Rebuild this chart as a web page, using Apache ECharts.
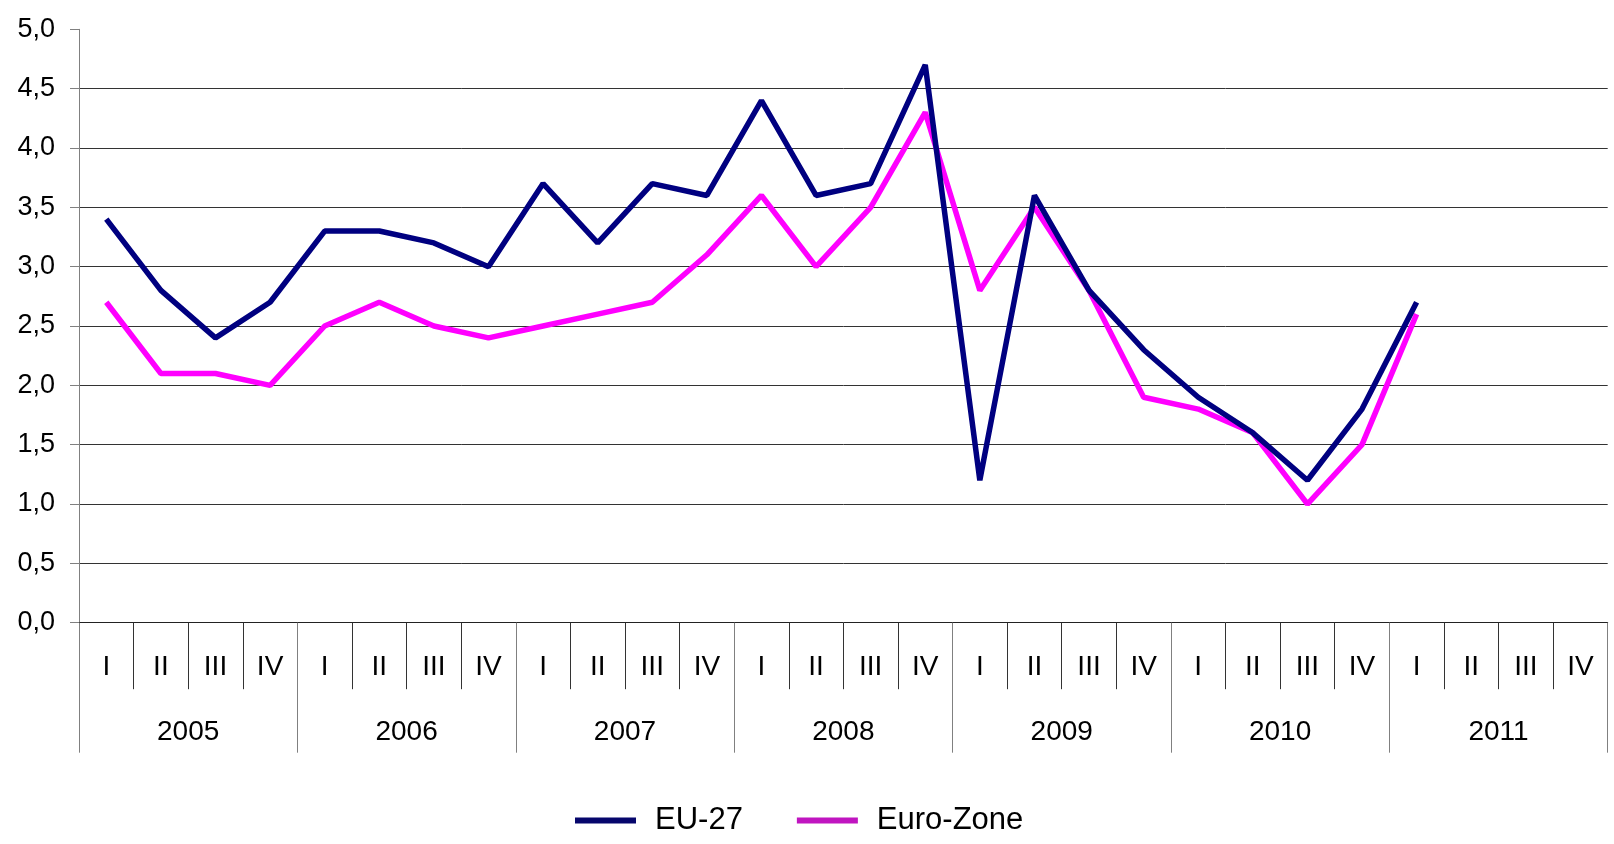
<!DOCTYPE html>
<html>
<head>
<meta charset="utf-8">
<script src="https://cdn.jsdelivr.net/npm/echarts@6/dist/echarts.min.js"></script>
<style>
html,body{margin:0;padding:0;background:#fff;}
#chart{width:1614px;height:844px;}
</style>
</head>
<body>
<div id="chart"></div>
<script>
var years = ['2005','2006','2007','2008','2009','2010','2011'];
var quarterNames = ['I','II','III','IV'];
var quarters = [];
years.forEach(function(y){ quarterNames.forEach(function(q){ quarters.push(q); }); });

var eu27 = [3.4, 2.8, 2.4, 2.7,
            3.3, 3.3, 3.2, 3.0,
            3.7, 3.2, 3.7, 3.6,
            4.4, 3.6, 3.7, 4.7,
            1.2, 3.6, 2.8, 2.3,
            1.9, 1.6, 1.2, 1.8,
            2.7, null, null, null];
var euroZone = [2.7, 2.1, 2.1, 2.0,
                2.5, 2.7, 2.5, 2.4,
                2.5, 2.6, 2.7, 3.1,
                3.6, 3.0, 3.5, 4.3,
                2.8, 3.5, 2.8, 1.9,
                1.8, 1.6, 1.0, 1.5,
                2.6, null, null, null];

var FONT = "'Liberation Sans', Arial, sans-serif";
var chart = echarts.init(document.getElementById('chart'), null, {renderer:'canvas'});
chart.setOption({
  animation: false,
  backgroundColor: '#ffffff',
  grid: {left: 79, right: 6.3, top: 29.3, bottom: 221.3, containLabel: false},
  legend: {
    left: 575, top: 805, padding: 0,
    itemWidth: 61, itemHeight: 6, itemGap: 54,
    icon: 'rect',
    textStyle: {fontFamily: FONT, fontSize: 31, color: '#000', padding: [0,0,0,14]},
    data: [
      {name: 'EU-27', itemStyle: {color: '#06066c'}},
      {name: 'Euro-Zone', itemStyle: {color: '#c015c0'}}
    ]
  },
  xAxis: [
    {
      type: 'category', data: quarters, boundaryGap: true, position: 'bottom',
      axisLine: {show: true, lineStyle: {color: '#222', width: 1}},
      axisTick: {show: true, interval: 0, length: 66.5, lineStyle: {color: '#333', width: 1}},
      axisLabel: {interval: 0, margin: 31, fontFamily: FONT, fontSize: 28, color: '#000'},
      splitLine: {show: false}
    },
    {
      type: 'category', data: years, boundaryGap: true, position: 'bottom', offset: 0,
      axisLine: {show: false},
      axisTick: {show: true, interval: 0, length: 130, lineStyle: {color: '#808080', width: 1}},
      axisLabel: {interval: 0, margin: 96, fontFamily: FONT, fontSize: 28, color: '#000'},
      splitLine: {show: false}
    }
  ],
  yAxis: {
    type: 'value', min: 0, max: 5, interval: 0.5,
    axisLine: {show: true, lineStyle: {color: '#808080', width: 1}},
    axisTick: {show: true, length: 9, inside: false, lineStyle: {color: '#808080', width: 1}},
    axisLabel: {margin: 24, fontFamily: FONT, fontSize: 27, color: '#000',
      formatter: function(v){ return v.toFixed(1).replace('.', ','); }},
    splitLine: {show: true, showMinLine: false, showMaxLine: false, lineStyle: {color: '#333', width: 1}}
  },
  series: [
    {
      name: 'Euro-Zone', type: 'line', data: euroZone, xAxisIndex: 0,
      showSymbol: false, symbol: 'none', connectNulls: false,
      lineStyle: {color: '#ff00ff', width: 5.5}, itemStyle: {color: '#ff00ff'}, z: 2
    },
    {
      name: 'EU-27', type: 'line', data: eu27, xAxisIndex: 0,
      showSymbol: false, symbol: 'none', connectNulls: false,
      lineStyle: {color: '#000080', width: 5.5}, itemStyle: {color: '#000080'}, z: 3
    }
  ]
});
</script>
</body>
</html>
